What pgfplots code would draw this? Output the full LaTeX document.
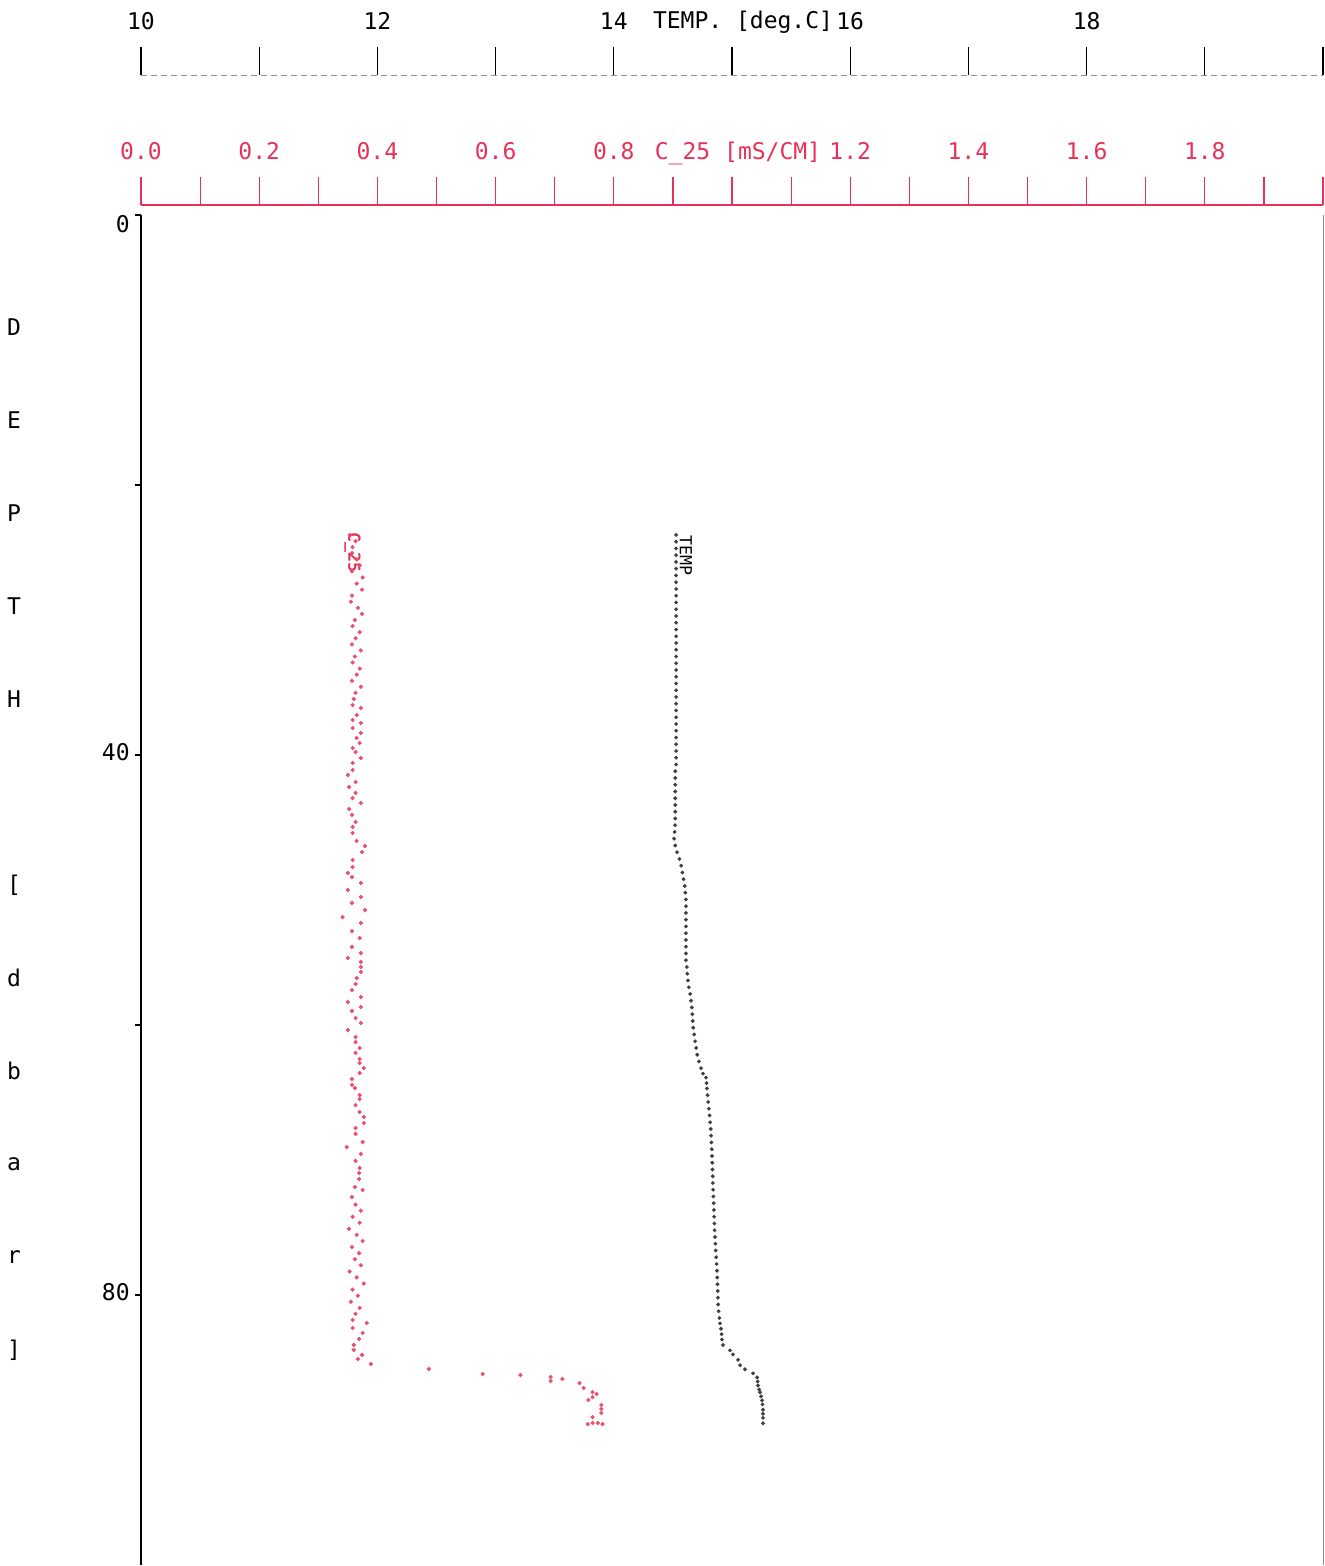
\documentclass[border=0pt]{standalone}
\usepackage{pgfplots}
\pgfplotsset{compat=1.18}
\usepackage{fontspec}
\setmainfont{DejaVu Sans Mono}
\definecolor{plotred}{RGB}{230,50,88}

% temperature profile: depth [dbar], temp [deg C]
\pgfplotstableread{
depth temp
23.7 14.527
24.2 14.527
24.7 14.527
25.2 14.527
25.7 14.527
26.2 14.527
26.7 14.527
27.2 14.527
27.7 14.527
28.2 14.527
28.7 14.527
29.2 14.527
29.7 14.527
30.2 14.527
30.7 14.527
31.2 14.527
31.7 14.527
32.2 14.527
32.7 14.527
33.2 14.527
33.7 14.527
34.2 14.527
34.7 14.527
35.2 14.527
35.7 14.527
36.2 14.527
36.7 14.527
37.2 14.527
37.7 14.527
38.2 14.527
38.7 14.527
39.2 14.527
39.7 14.527
40.2 14.527
40.7 14.527
41.2 14.520
41.7 14.520
42.2 14.520
42.7 14.520
43.2 14.520
43.7 14.520
44.2 14.520
44.7 14.520
45.2 14.518
45.7 14.515
46.2 14.510
46.7 14.520
47.2 14.535
47.7 14.555
48.2 14.570
48.7 14.580
49.2 14.590
49.7 14.600
50.2 14.605
50.7 14.610
51.2 14.610
51.7 14.610
52.2 14.610
52.7 14.610
53.2 14.610
53.7 14.610
54.2 14.610
54.7 14.610
55.2 14.610
55.7 14.618
56.2 14.622
56.7 14.627
57.2 14.635
57.7 14.646
58.2 14.653
58.7 14.660
59.2 14.664
59.7 14.668
60.2 14.672
60.7 14.680
61.2 14.688
61.7 14.697
62.2 14.706
62.7 14.720
63.2 14.738
63.6 14.755
63.9 14.780
64.3 14.785
64.7 14.788
65.2 14.793
65.7 14.798
66.2 14.804
66.7 14.810
67.2 14.815
67.7 14.820
68.2 14.823
68.7 14.826
69.2 14.829
69.7 14.831
70.2 14.833
70.7 14.835
71.2 14.837
71.7 14.838
72.2 14.840
72.7 14.843
73.2 14.845
73.7 14.847
74.2 14.849
74.7 14.851
75.2 14.853
75.7 14.856
76.2 14.859
76.7 14.862
77.2 14.866
77.7 14.870
78.2 14.873
78.7 14.875
79.2 14.877
79.7 14.879
80.2 14.881
80.7 14.883
81.2 14.887
81.7 14.893
82.1 14.898
82.5 14.907
82.9 14.912
83.3 14.915
83.7 14.924
84.1 14.983
84.4 15.008
84.8 15.051
85.2 15.068
85.5 15.110
85.8 15.178
86.1 15.212
86.4 15.217
86.7 15.220
87.0 15.230
87.2 15.237
87.5 15.246
87.8 15.254
88.1 15.258
88.5 15.262
88.8 15.262
89.1 15.262
89.5 15.262
}\temptable

% conductivity C_25: depth [dbar], cond [mS/cm]
\pgfplotstableread{
depth cond
23.70 0.353
24.15 0.363
24.60 0.358
25.05 0.357
25.50 0.365
25.95 0.370
26.40 0.357
26.85 0.375
27.30 0.365
27.75 0.374
28.20 0.357
28.65 0.355
29.10 0.367
29.55 0.374
30.00 0.362
30.45 0.358
30.90 0.370
31.35 0.363
31.80 0.357
32.25 0.372
32.70 0.362
33.15 0.358
33.60 0.370
34.05 0.365
34.50 0.357
34.95 0.372
35.40 0.363
35.85 0.360
36.30 0.358
36.52 0.372
37.04 0.365
37.41 0.358
37.63 0.372
38.00 0.358
38.37 0.372
38.74 0.365
39.11 0.370
39.48 0.358
39.78 0.363
40.22 0.372
40.59 0.358
41.11 0.358
41.48 0.350
42.00 0.363
42.37 0.352
42.81 0.363
43.19 0.358
43.56 0.372
44.00 0.352
44.44 0.357
44.96 0.363
45.33 0.358
45.78 0.358
46.37 0.365
46.74 0.379
47.19 0.374
47.78 0.358
48.30 0.358
48.74 0.350
49.04 0.357
49.48 0.372
50.00 0.350
50.52 0.372
50.96 0.357
51.48 0.379
52.00 0.341
52.44 0.372
53.04 0.357
53.56 0.370
54.22 0.357
54.67 0.372
55.04 0.350
55.33 0.372
55.70 0.372
56.07 0.372
56.52 0.365
56.96 0.363
57.41 0.357
57.93 0.372
58.30 0.350
58.67 0.372
58.96 0.357
59.48 0.363
59.85 0.372
60.37 0.350
60.89 0.363
61.26 0.363
61.70 0.370
62.07 0.363
62.52 0.370
62.81 0.370
63.19 0.377
63.56 0.370
64.00 0.357
64.44 0.357
64.67 0.362
65.19 0.370
65.48 0.370
65.93 0.363
66.44 0.370
66.81 0.377
67.26 0.377
67.63 0.363
68.07 0.363
68.67 0.375
69.04 0.348
69.56 0.372
70.07 0.363
70.59 0.370
70.96 0.369
71.41 0.369
72.00 0.362
72.22 0.375
72.74 0.357
73.30 0.363
73.75 0.372
74.20 0.358
74.65 0.370
75.10 0.352
75.55 0.365
76.00 0.375
76.45 0.357
76.90 0.369
77.35 0.362
77.80 0.372
78.25 0.353
78.70 0.365
79.15 0.377
79.60 0.358
80.05 0.367
80.50 0.355
80.95 0.370
81.40 0.363
81.85 0.358
82.07 0.382
82.44 0.358
82.81 0.375
83.26 0.369
83.70 0.360
84.07 0.360
84.44 0.374
84.74 0.367
85.11 0.389
85.48 0.487
85.85 0.578
85.93 0.642
86.07 0.693
86.37 0.693
86.22 0.713
86.52 0.742
86.89 0.749
87.19 0.764
87.33 0.771
87.56 0.764
87.78 0.757
88.15 0.779
88.44 0.779
88.74 0.779
89.04 0.764
89.56 0.756
89.48 0.764
89.48 0.773
89.56 0.781
}\condtable

\begin{document}
\begin{tikzpicture}[font=\fontsize{11.5}{13}\selectfont]
\pgfplotsset{
  scale bar/.style={
    scale only axis, width=591pt, height=10pt, anchor=north west,
    ymin=0, ymax=1, axis x line=top, axis y line=none,
    axis line style={-}, tick align=outside, major tick length=14pt,
    xticklabel style={font=\fontsize{11.5}{13}\selectfont, yshift=5pt},
  },
  profile/.style={
    scale only axis, width=591pt, height=675pt, anchor=north west,
    at={(0,-5pt)}, y dir=reverse, ymin=0, ymax=100, clip=false,
  },
}
% temperature scale (top)
\begin{axis}[scale bar, at={(0,65pt)},
  xmin=10, xmax=20, xtick={10,11,12,13,14,15,16,17,18,19,20},
  xticklabels={10,,12,,14,,16,,18,,},
  x axis line style={black!45, densely dashed},
  xtick style={black, line width=0.6pt}]
\end{axis}
% conductivity scale
\begin{axis}[scale bar, at={(0,0)},
  xmin=0, xmax=2,
  xtick={0,0.1,0.2,0.3,0.4,0.5,0.6,0.7,0.8,0.9,1.0,1.1,1.2,1.3,1.4,1.5,1.6,1.7,1.8,1.9,2.0},
  xticklabels={0.0,,0.2,,0.4,,0.6,,0.8,,,,1.2,,1.4,,1.6,,1.8,,},
  x axis line style={plotred, line width=0.8pt},
  xtick style={plotred, line width=0.6pt},
  xticklabel style={text=plotred}]
\end{axis}
% temperature profile with depth axis
\begin{axis}[profile, xmin=10, xmax=20,
  axis x line=none, axis y line=left, axis line style={-, black, line width=0.6pt},
  ytick={0,20,40,60,80}, yticklabels={}, tick align=outside,
  major tick length=3pt, ytick style={black, line width=0.6pt}]
\addplot[black!75, only marks, mark=*, mark size=0.75pt]
  table[x=temp, y=depth] {\temptable};
\draw[black!45, line width=0.5pt] (axis cs:20,0) -- (axis cs:20,100);
\node[rotate=-90, anchor=center, font=\fontsize{8.3}{9}\selectfont] at (axis cs:14.61,25.2) {TEMP};
\end{axis}
% conductivity profile
\begin{axis}[profile, xmin=0, xmax=2, axis lines=none]
\addplot[plotred!85, only marks, mark=*, mark size=0.85pt]
  table[x=cond, y=depth] {\condtable};
\node[rotate=-90, anchor=center, text=plotred, font=\bfseries\fontsize{8.3}{9}\selectfont] at (axis cs:0.358,25.0) {C\_25};
\end{axis}
% axis titles and depth labels
\node[anchor=center] at (301pt,91.5pt) {TEMP. [deg.C]};
\node[anchor=center, text=plotred] at (298.5pt,26pt) {C\_25 [mS/CM]};
\node[anchor=east, inner sep=0pt] at (-5.5pt,-9.5pt) {0};
\node[anchor=east, inner sep=0pt] at (-5.5pt,-273.5pt) {40};
\node[anchor=east, inner sep=0pt] at (-5.5pt,-543.5pt) {80};
\foreach \ch [count=\i from 0] in {D,E,P,T,H,{},[,d,b,a,r,]}
  \node[anchor=center] at (-63.5pt,-61pt-46.5pt*\i) {\ch};
\pgfresetboundingbox
\path[use as bounding box] (-70.5pt,102.5pt) rectangle (592pt,-680.5pt);
\end{tikzpicture}
\end{document}
